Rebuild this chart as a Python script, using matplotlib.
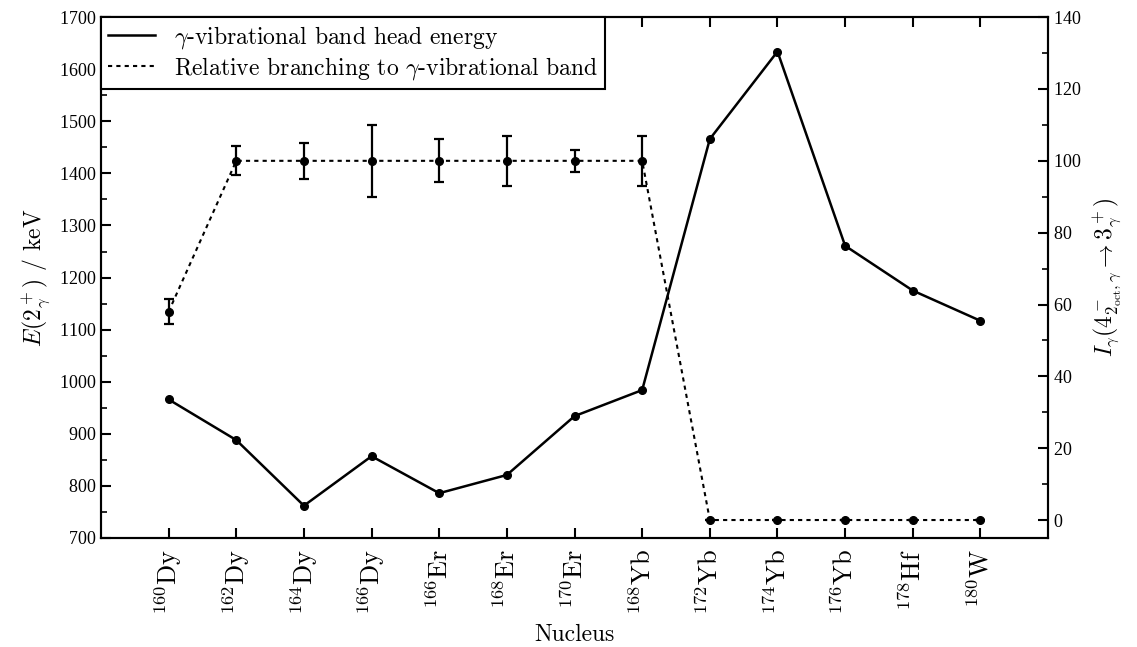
import matplotlib
matplotlib.use("Agg")
import matplotlib.pyplot as plt
from matplotlib.lines import Line2D
from matplotlib.ticker import MultipleLocator

plt.rcParams['font.family'] = 'serif'
plt.rcParams['font.serif'] = ['cmr10', 'DejaVu Serif']
plt.rcParams['mathtext.fontset'] = 'cm'
plt.rcParams['axes.formatter.use_mathtext'] = True

# data
nuclei = [('160', 'Dy'), ('162', 'Dy'), ('164', 'Dy'), ('166', 'Dy'), ('166', 'Er'),
          ('168', 'Er'), ('170', 'Er'), ('168', 'Yb'), ('172', 'Yb'), ('174', 'Yb'),
          ('176', 'Yb'), ('178', 'Hf'), ('180', 'W')]
energy = [966, 888, 762, 857, 786, 821, 934, 984, 1466, 1634, 1261, 1175, 1117]
branching = [58, 100, 100, 100, 100, 100, 100, 100, 0, 0, 0, 0, 0]
branching_err = [3.5, 4, 5, 10, 6, 7, 3, 7, 0, 0, 0, 0, 0]

labels = [r'$^{%s}\mathrm{%s}$' % (a, el) for a, el in nuclei]
x = list(range(len(nuclei)))
dash = (0, (2, 2))

fig = plt.figure(figsize=(11.37, 6.47), dpi=100)
ax = fig.add_axes([0.0888, 0.1685, 0.833, 0.805])
ax2 = ax.twinx()

ax.plot(x, energy, '-', color='black', lw=1.8, marker='o', ms=5.5)
ax2.errorbar(x, branching, yerr=branching_err, fmt='o', color='black', ms=5.5,
             ls=dash, lw=1.5, elinewidth=1.6, capsize=3.5, capthick=1.6)

ax.set_xlim(-1, 13)
ax.set_ylim(700, 1700)
ax2.set_ylim(-5, 140)

ax.set_xticks(x)
ax.set_xticklabels(labels, rotation=90)
ax.yaxis.set_major_locator(MultipleLocator(100))
ax.yaxis.set_minor_locator(MultipleLocator(50))
ax2.yaxis.set_major_locator(MultipleLocator(20))
ax2.yaxis.set_minor_locator(MultipleLocator(10))

for a in (ax, ax2):
    a.tick_params(which='major', direction='in', length=7, width=1.5, labelsize=13)
    a.tick_params(which='minor', direction='in', length=4, width=1.2)
    for s in a.spines.values():
        s.set_linewidth(1.5)
ax.tick_params(axis='x', top=True, pad=8, labelsize=19)
ax.tick_params(axis='y', which='both', right=False)
ax2.tick_params(axis='y', which='both', left=False)

for t in ax.get_yticklabels() + ax2.get_yticklabels():
    t.set_fontfamily('Liberation Serif')
    t.set_fontsize(13)

ax.set_xlabel('Nucleus', fontsize=17, labelpad=6)
ax.set_ylabel(r'$E(2^+_\gamma)$ / keV', fontsize=17)
ax2.set_ylabel(r'$I_\gamma(4^-_{2_{\mathrm{oct}},\gamma}\rightarrow 3^+_\gamma)$', fontsize=17, labelpad=8)

handles = [Line2D([], [], color='black', lw=1.8),
           Line2D([], [], color='black', lw=1.5, ls=dash)]
names = [r'$\gamma$-vibrational band head energy',
         r'Relative branching to $\gamma$-vibrational band']
leg = ax.legend(handles, names, loc='upper left',
                fontsize=17, fancybox=False, edgecolor='black', framealpha=1,
                borderaxespad=0, handlelength=2.0, borderpad=0.3, labelspacing=0.15)
leg.get_frame().set_linewidth(1.5)
ax.set_zorder(ax2.get_zorder() + 1)
ax.patch.set_visible(False)

fig.savefig('out.png', dpi=100)
